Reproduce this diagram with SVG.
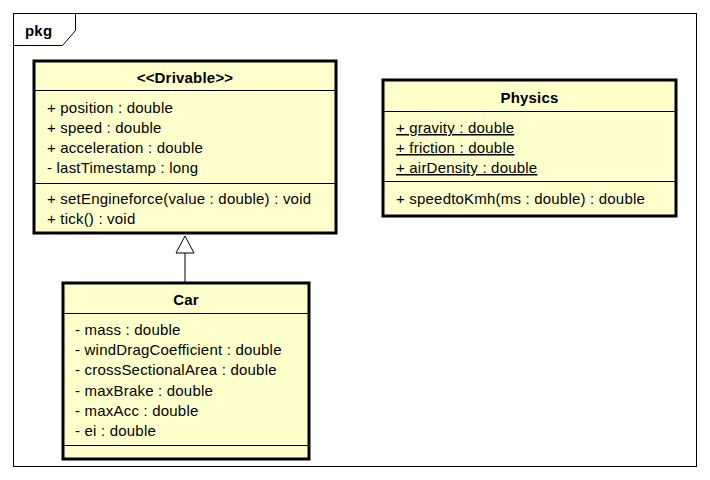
<svg xmlns="http://www.w3.org/2000/svg" width="710" height="480" viewBox="0 0 710 480">
<style>
text{font-family:"Liberation Sans",Arial,sans-serif;font-size:15px;letter-spacing:0.2px;fill:#000}
.t{font-weight:bold;text-anchor:middle}
.box{fill:#FFFFCC;stroke:#000;stroke-width:3}
.sep{stroke:#000;stroke-width:1}
.u{text-decoration:underline}
</style>
<rect x="0" y="0" width="710" height="480" fill="#fff"/>
<g id="pkg">
<rect x="13.5" y="13.5" width="683" height="453" fill="#fff" stroke="#000" stroke-width="1"/>
<path d="M13.5 45.5 H62.5 L75.5 30.5 V13.5" fill="none" stroke="#000" stroke-width="1"/>
<text x="25" y="36" style="font-weight:bold">pkg</text>
</g>
<g id="connectors">
<line x1="185" y1="253" x2="185" y2="282" stroke="#000" stroke-width="1"/>
<path d="M185 236 L176 253 H194 Z" fill="#fff" stroke="#000" stroke-width="1"/>
</g>
<g id="drivable">
<rect class="box" x="34" y="61" width="302" height="172"/>
<line class="sep" x1="34" y1="90.5" x2="336" y2="90.5"/>
<line class="sep" x1="34" y1="183.5" x2="336" y2="183.5"/>
<text class="t" x="185" y="83">&lt;&lt;Drivable&gt;&gt;</text>
<text x="47" y="113">+ position : double</text>
<text x="47" y="133">+ speed : double</text>
<text x="47" y="153">+ acceleration : double</text>
<text x="47" y="173">- lastTimestamp : long</text>
<text x="47" y="204">+ setEngineforce(value : double) : void</text>
<text x="47" y="224">+ tick() : void</text>
</g>
<g id="physics">
<rect class="box" x="383" y="80" width="293" height="136"/>
<line class="sep" x1="383" y1="111.5" x2="676" y2="111.5"/>
<line class="sep" x1="383" y1="181.5" x2="676" y2="181.5"/>
<text class="t" x="529.5" y="103">Physics</text>
<text class="u" x="396" y="133">+ gravity : double</text>
<text class="u" x="396" y="153">+ friction : double</text>
<text class="u" x="396" y="173">+ airDensity : double</text>
<text x="396" y="204">+ speedtoKmh(ms : double) : double</text>
</g>
<g id="car">
<rect class="box" x="63" y="283" width="246" height="176"/>
<line class="sep" x1="63" y1="313.5" x2="309" y2="313.5"/>
<line class="sep" x1="63" y1="445.5" x2="309" y2="445.5"/>
<text class="t" x="186" y="305">Car</text>
<text x="75" y="335">- mass : double</text>
<text x="75" y="355">- windDragCoefficient : double</text>
<text x="75" y="375">- crossSectionalArea : double</text>
<text x="75" y="396">- maxBrake : double</text>
<text x="75" y="416">- maxAcc : double</text>
<text x="75" y="436">- ei : double</text>
</g>
</svg>
